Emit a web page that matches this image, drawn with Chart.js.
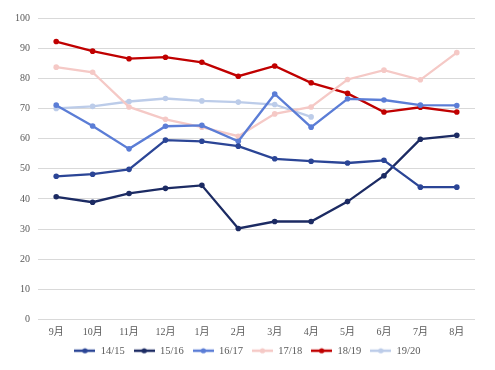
<!DOCTYPE html>
<html lang="zh">
<head>
    <meta charset="UTF-8">
    <title>Chart</title>
    <script src="https://cdn.jsdelivr.net/npm/chart.js"></script>
    <style>
        html, body { margin: 0; padding: 0; background: #fff; }
        #wrap { width: 495px; height: 370px; }
    </style>
</head>
<body>
    <div id="wrap"><canvas id="seasonChart" width="495" height="370"></canvas></div>
    <script>
        // months (Sep..Aug)
        const months = ['9月', '10月', '11月', '12月', '1月', '2月', '3月', '4月', '5月', '6月', '7月', '8月'];
        const yTicks = [0, 10, 20, 30, 40, 50, 60, 70, 80, 90, 100];

        const s1415 = [47.5, 48.2, 49.8, 59.5, 59.1, 57.5, 53.3, 52.5, 51.9, 52.8, 43.9, 43.9];
        const s1516 = [40.7, 38.9, 41.8, 43.5, 44.5, 30.2, 32.5, 32.5, 39.1, 47.7, 59.8, 61.1];
        const s1617 = [71.1, 64.2, 56.6, 64.1, 64.4, 59.1, 74.8, 63.8, 73.2, 72.8, 71.1, 71.0];
        const s1718 = [83.7, 82.0, 70.5, 66.4, 63.8, 60.8, 68.2, 70.5, 79.6, 82.7, 79.5, 88.5];
        const s1819 = [92.2, 89.0, 86.5, 87.0, 85.3, 80.7, 84.1, 78.5, 75.0, 68.8, 70.4, 68.8];
        const s1920 = [70.0, 70.7, 72.3, 73.3, 72.5, 72.1, 71.3, 67.2, null, null, null, null];

        const seriesNames = ['14/15', '15/16', '16/17', '17/18', '18/19', '19/20'];
        const seriesData = [s1415, s1516, s1617, s1718, s1819, s1920];
        const seriesColors = ['#2b4596', '#1c2b63', '#5b7dd6', '#f5c9c6', '#c00000', '#bccce9'];

        const fontFam = "'Liberation Serif', 'Noto Sans CJK SC', serif";

        // little line+dot swatch for the legend
        function makeSwatch(color) {
            const c = document.createElement('canvas');
            c.width = 21; c.height = 8;
            const g = c.getContext('2d');
            g.strokeStyle = color;
            g.lineWidth = 2.5;
            g.beginPath();
            g.moveTo(0, 4);
            g.lineTo(21, 4);
            g.stroke();
            g.fillStyle = color;
            g.beginPath();
            g.arc(10.5, 4, 2.6, 0, Math.PI * 2);
            g.fill();
            return c;
        }

        const datasets = seriesNames.map((name, i) => ({
            label: name,
            data: seriesData[i],
            borderColor: seriesColors[i],
            backgroundColor: seriesColors[i],
            borderWidth: 2.3,
            pointRadius: 2.8,
            pointBorderWidth: 0,
            pointHoverRadius: 2.8,
            tension: 0,
            spanGaps: false
        }));

        new Chart(document.getElementById('seasonChart').getContext('2d'), {
            type: 'line',
            data: { labels: months, datasets: datasets },
            options: {
                responsive: false,
                animation: false,
                layout: { padding: { top: 18, right: 0, left: 0, bottom: 4 } },
                plugins: {
                    tooltip: { enabled: false },
                    legend: {
                        position: 'bottom',
                        labels: {
                            usePointStyle: true,
                            pointStyleWidth: 21,
                            padding: 9,
                            color: '#595959',
                            font: { family: fontFam, size: 10.5 },
                            generateLabels: (chart) => {
                                const items = Chart.defaults.plugins.legend.labels.generateLabels(chart);
                                items.forEach((it, i) => { it.pointStyle = makeSwatch(seriesColors[i]); });
                                return items;
                            }
                        }
                    }
                },
                scales: {
                    x: {
                        offset: true,
                        grid: { display: false, drawTicks: false },
                        border: { display: false },
                        ticks: {
                            color: '#595959',
                            padding: 7,
                            maxRotation: 0,
                            font: { family: fontFam, size: 10 }
                        },
                        afterFit: (s) => { s.height = 17; }
                    },
                    y: {
                        min: 0,
                        max: 100,
                        afterBuildTicks: (s) => { s.ticks = yTicks.map(v => ({ value: v })); },
                        grid: { color: '#d9d9d9', lineWidth: 1, drawTicks: false },
                        border: { display: false },
                        ticks: {
                            color: '#595959',
                            padding: 8,
                            font: { family: fontFam, size: 10 }
                        },
                        afterFit: (s) => { s.width = 38; }
                    },
                    // empty right margin so the legend centres on the whole canvas
                    yRight: {
                        position: 'right',
                        min: 0,
                        max: 100,
                        grid: { display: false },
                        border: { display: false },
                        ticks: { display: false },
                        afterFit: (s) => { s.width = 20; }
                    }
                }
            }
        });
    </script>
</body>
</html>
